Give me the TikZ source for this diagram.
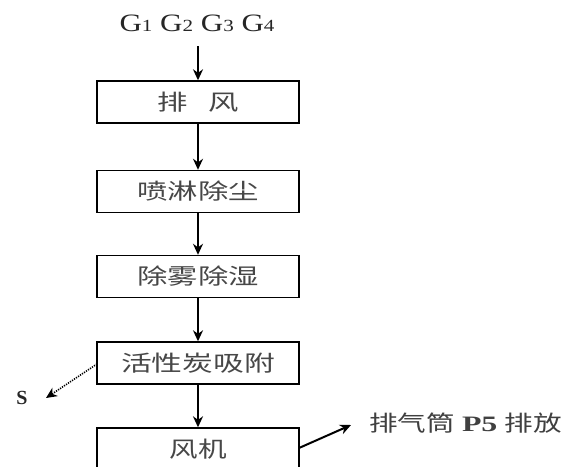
\documentclass[tikz,border=0pt]{standalone}
\usepackage{graphicx}
\usepackage{fontspec}
\setmainfont{Liberation Serif}
\newfontfamily\cjk{Noto Sans CJK SC}
\usetikzlibrary{arrows.meta}
\newcommand\cz[2][1.38]{\scalebox{#1}[1]{\cjk\fontsize{22}{22}\selectfont #2}}
\newcommand\sm[1]{{\fontsize{17}{17}\selectfont #1}}
\begin{document}
\begin{tikzpicture}[x=1pt,y=-1pt,
  box/.style={draw, line width=1.4pt, minimum width=202pt, minimum height=42pt,
    inner sep=0pt, text=black!72},
  flow/.style={-{Stealth[length=11pt,width=10pt]}, line width=2pt},
  lbl/.style={inner sep=0pt, text=black!85}]
\clip (0,0) rectangle (581,466);
\fill[white] (0,0) rectangle (581,466);
\node[lbl] (G) at (197,23)
  {\scalebox{1.24}[1]{\fontsize{25}{25}\selectfont G\sm{1} G\sm{2} G\sm{3} G\sm{4}}};
\coordinate (Gs) at (198,46);
\node[box] (b1) at (198,102) {\cz{排}\hspace{20pt}\cz{风}};
\node[box] (b2) at (198,191.5) {\cz{喷淋除尘}};
\node[box] (b3) at (198,276.5) {\cz{除雾除湿}};
\node[box] (b4) at (198,363) {\cz[1.4]{活性炭吸附}};
\node[box] (b5) at (198,449) {\cz[1.3]{风机}};
\draw[flow] (Gs) -- (b1);
\draw[flow] (b1) -- (b2);
\draw[flow] (b2) -- (b3);
\draw[flow] (b3) -- (b4);
\draw[flow] (b4) -- (b5);
\node[lbl, font=\fontsize{20}{20}\selectfont\bfseries] (S) at (22,398) {S};
\coordinate (b4w) at (97,364);
\coordinate (Se) at (46,398);
\draw[line width=1.6pt, dash pattern=on 1.2pt off 1.2pt, -{Stealth[length=11pt,width=10pt]}] (b4w) -- (Se);
\coordinate (b5e) at (299,448);
\node[lbl, anchor=west, text=black!75] (P) at (369,423)
  {\cz[1.3]{排气筒}\hspace{7pt}\scalebox{1.45}[1]{\fontsize{22}{22}\selectfont\bfseries P5}\hspace{7pt}\cz[1.3]{排放}};
\coordinate (Pe) at (351,425);
\draw[flow] (b5e) -- (Pe);
\end{tikzpicture}
\end{document}
